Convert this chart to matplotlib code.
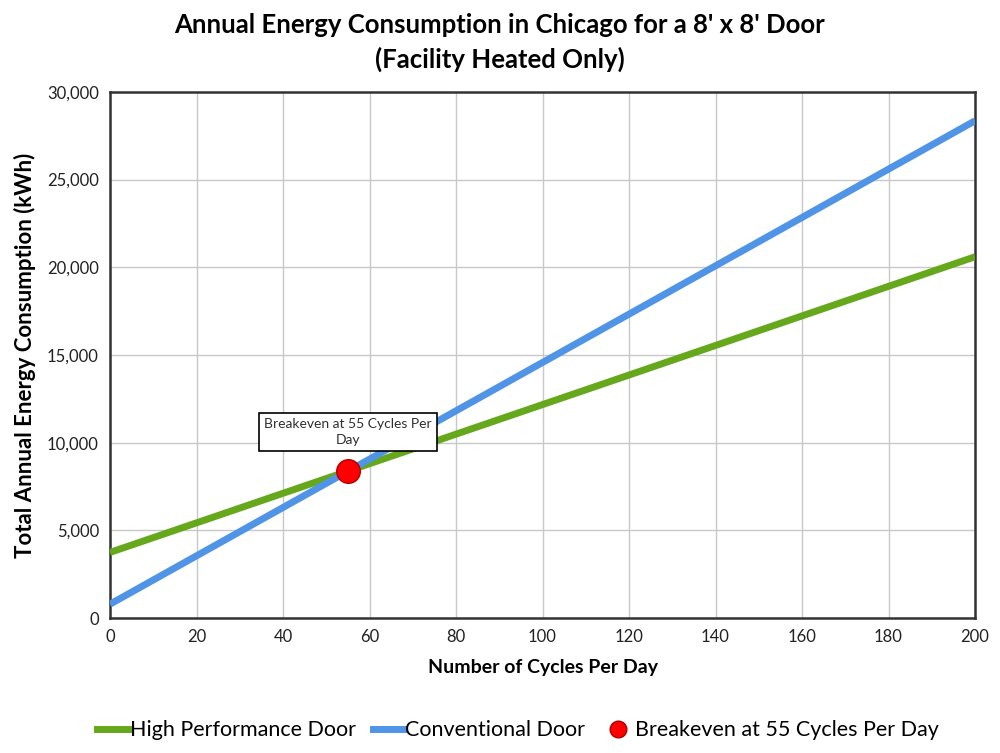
import matplotlib.pyplot as plt
from matplotlib.lines import Line2D

plt.rcParams['font.family'] = ['Lato', 'DejaVu Sans']

# values
cycles = [0, 200]
high_perf = [3750, 20600]
conventional = [800, 28350]
breakeven_x = [55]
breakeven_y = [8400]

fig = plt.figure(figsize=(10, 7.53), dpi=100)
ax = fig.add_axes([0.11, 0.179, 0.865, 0.699])

ax.plot(cycles, high_perf, color='#66a81c', lw=5, solid_capstyle='butt', zorder=3)
ax.plot(cycles, conventional, color='#4f94e6', lw=5, solid_capstyle='butt', zorder=3)
ax.plot(breakeven_x, breakeven_y, 'o', ms=17, color='#ff0000', mec='#b00000', mew=1,
        zorder=5, linestyle='none')

ax.annotate('Breakeven at 55 Cycles Per\nDay', xy=(breakeven_x[0], breakeven_y[0]),
            xytext=(0, 28), textcoords='offset points', ha='center', va='center',
            fontsize=10, color='#303030', linespacing=1.4,
            bbox=dict(boxstyle='square,pad=0.35', fc='white', ec='black', lw=1.2),
            zorder=6)

ax.set_xlim(0, 200)
ax.set_ylim(0, 30000)
ax.set_xticks(range(0, 201, 20))
ax.set_yticks(range(0, 30001, 5000))
ax.set_yticklabels([f'{v:,}' for v in range(0, 30001, 5000)])
ax.tick_params(labelsize=12, length=0, pad=8, colors='#222222')
ax.grid(color='#c8c8c8', lw=1)
ax.set_axisbelow(True)
for s in ax.spines.values():
    s.set_color('#333333')
    s.set_linewidth(1.8)

ax.set_xlabel('Number of Cycles Per Day', fontsize=14, fontweight='bold', labelpad=10)
ax.set_ylabel('Total Annual Energy Consumption (kWh)', fontsize=16, fontweight='bold', labelpad=8)
fig.suptitle("Annual Energy Consumption in Chicago for a 8' x 8' Door\n(Facility Heated Only)",
             fontsize=18.5, fontweight='bold', y=0.983, linespacing=1.45)

handles = [
    Line2D([], [], color='#66a81c', lw=5),
    Line2D([], [], color='#4f94e6', lw=5),
    Line2D([], [], marker='o', ms=12, color='#ff0000', mec='#b00000', linestyle='none'),
]
labels = ['High Performance Door', 'Conventional Door', 'Breakeven at 55 Cycles Per Day']
fig.legend(handles, labels, loc='center', bbox_to_anchor=(0.518, 0.03), ncol=3, frameon=False,
           fontsize=15.5, handlelength=1.4, handletextpad=0.1, columnspacing=0.8)

fig.savefig('out.png', dpi=100)
